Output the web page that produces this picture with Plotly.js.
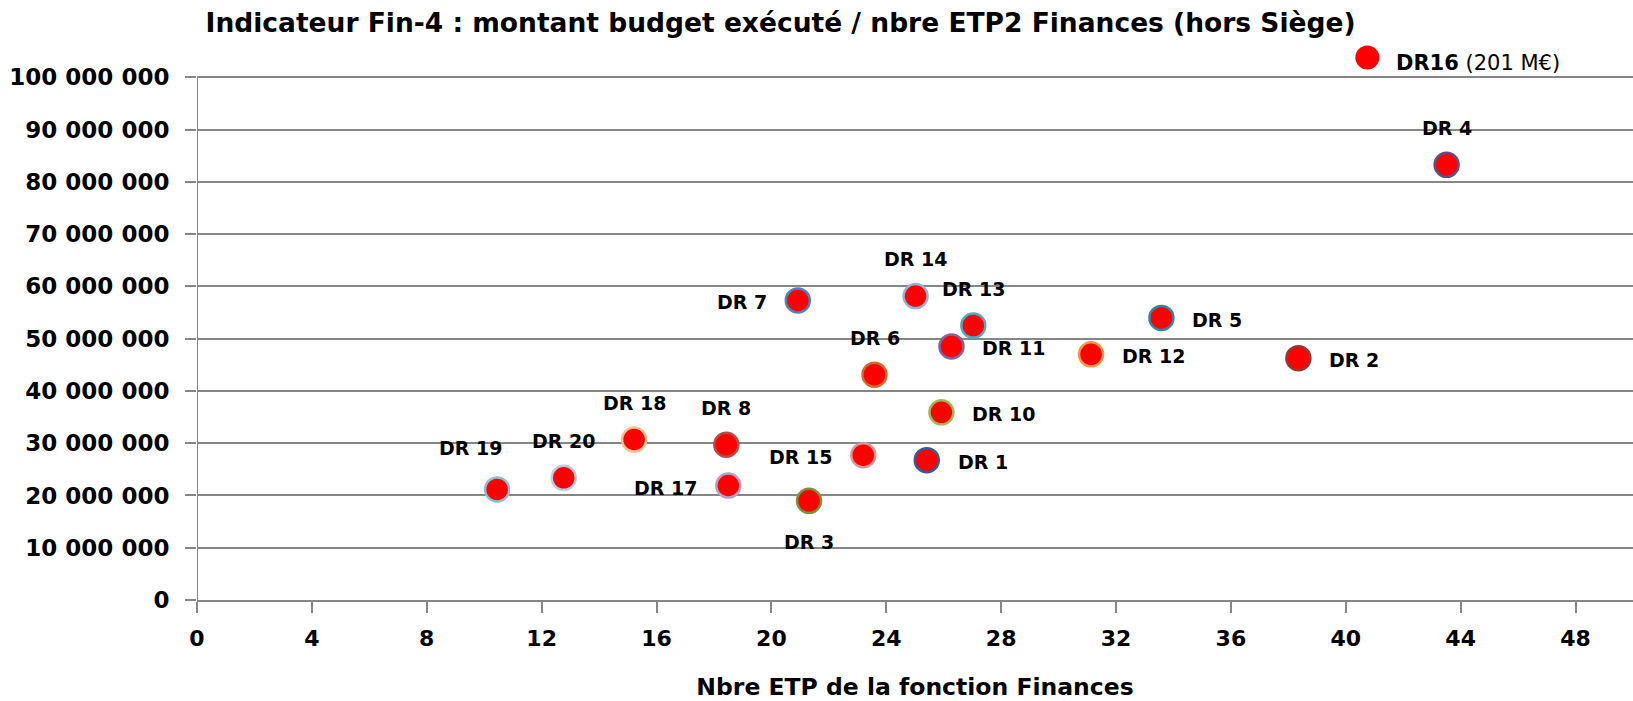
<!DOCTYPE html>
<html>
<head>
<meta charset="utf-8">
<script src="https://cdn.plot.ly/plotly-3.0.1.min.js"></script>
<style>html,body{margin:0;padding:0;background:#fff;}#chart{width:1633px;height:701px;}</style>
</head>
<body>
<div id="chart"></div>
<script>
// ---- data ----
const regions = ["DR 1","DR 2","DR 3","DR 4","DR 5","DR 6","DR 7","DR 8","DR 10","DR 11",
                 "DR 12","DR 13","DR 14","DR 15","DR16","DR 17","DR 18","DR 19","DR 20"];
// number of finance FTEs
const etp = [25.41, 38.35, 21.31, 43.51, 33.58, 23.59, 20.92, 18.43, 25.92, 26.27,
             31.13, 27.03, 25.02, 23.20, 40.75, 18.50, 15.22, 10.45, 12.77];
// executed budget (DR16 is shown capped just above the axis, its real value is 201 M€)
const budget = [26750000, 46250000, 18980000, 83260000, 53950000, 43100000, 57300000, 29700000, 35900000, 48500000,
                47000000, 52500000, 58150000, 27700000, 103800000, 21900000, 30700000, 21150000, 23370000];
const dr16Note = "(201 M€)";
const xTicks = [0, 4, 8, 12, 16, 20, 24, 28, 32, 36, 40, 44, 48];
const yTicks = [0, 10000000, 20000000, 30000000, 40000000, 50000000, 60000000, 70000000, 80000000, 90000000, 100000000];
const yAxisMax = 100000000;

// ---- styles ----
const outline = ["#2F5E99","#953735","#77933C","#5E5185","#31859C","#CC6F2A","#4F81BD","#B84A47","#9BBB59","#8064A2",
                 "#F79646","#4BACC6","#95B3D7","#D99694","#FF0000","#B3A2C7","#FAC090","#86C0D2","#B9CDE5"];
const outlineW = [2.5,2.5,2.5,2.5,2.5,2.5,2.5,2.5,2.5,2.5,2.5,2.5,2.5,2.5,0,2.5,2.5,2.5,2.5];
const labelSide = ["right","right","bottom","top","right","top","left","top","right","right",
                   "right","top","top","left","note","left","top","topleft","top"];

const GRID = "#868686";
const FONT = "DejaVu Sans";

const trace = {
  type: "scatter", mode: "markers",
  x: etp, y: budget, cliponaxis: false, hoverinfo: "skip",
  marker: { color: "#FF0000", size: 24, line: { color: outline, width: outlineW } }
};

const place = {
  top:     { xanchor: "center", xshift: 0,   yshift: 37 },
  topleft: { xanchor: "center", xshift: -27, yshift: 41 },
  bottom:  { xanchor: "center", xshift: 0,   yshift: -41 },
  right:   { xanchor: "left",   xshift: 29,  yshift: -2 },
  left:    { xanchor: "right",  xshift: -29, yshift: -2 },
  note:    { xanchor: "left",   xshift: 27,  yshift: -6 }
};

const annotations = regions.map((r, i) => {
  const p = place[labelSide[i]];
  const isNote = labelSide[i] === "note";
  const txt = isNote ? "<b>" + r + "</b> " + dr16Note : "<b>" + r + "</b>";
  return {
    x: etp[i], y: budget[i], xref: "x", yref: "y", text: txt, showarrow: false,
    xanchor: p.xanchor, yanchor: "middle", xshift: p.xshift, yshift: p.yshift,
    font: { family: FONT, size: isNote ? 21 : 19, color: "#000" }
  };
});

const layout = {
  width: 1633, height: 701,
  margin: { l: 197, r: 0, t: 25, b: 101 },
  paper_bgcolor: "#fff", plot_bgcolor: "rgba(0,0,0,0)",
  separators: ", ",
  showlegend: false, hovermode: false,
  font: { family: FONT, color: "#000" },
  title: {
    text: "<b>Indicateur Fin-4 : montant budget exécuté / nbre ETP2 Finances (hors Siège)</b>",
    font: { family: FONT, size: 26.5, color: "#000" },
    x: 0.478, xanchor: "center", xref: "container", y: 1 - 23/701, yanchor: "middle", yref: "container"
  },
  xaxis: {
    range: [0, 50], tickvals: xTicks, ticktext: xTicks.map(v => "<b>" + v + "</b>"),
    showgrid: false, zeroline: false,
    showline: true, linecolor: GRID, linewidth: 2,
    ticks: "outside", ticklen: 11, tickwidth: 2, tickcolor: GRID,
    tickfont: { family: FONT, size: 22, color: "#000" },
    ticklabelstandoff: 7,
    title: { text: "<b>Nbre ETP de la fonction Finances</b>", font: { family: FONT, size: 23.5, color: "#000" }, standoff: 28 }
  },
  yaxis: {
    range: [0, 110000000], tickvals: yTicks, tickformat: ",d",
    showgrid: true, gridcolor: GRID, gridwidth: 2, zeroline: false,
    showline: false,
    ticks: "outside", ticklen: 11, tickwidth: 2, tickcolor: GRID,
    tickfont: { family: FONT, size: 23, color: "#000", weight: "bold" },
    ticklabelstandoff: 11
  },
  shapes: [{
    type: "line", xref: "x", yref: "y", x0: 0, x1: 0, y0: 0, y1: yAxisMax,
    line: { color: GRID, width: 2 }, layer: "below"
  }],
  annotations: annotations
};

Plotly.newPlot("chart", [trace], layout, { displayModeBar: false, staticPlot: true });
</script>
</body>
</html>
